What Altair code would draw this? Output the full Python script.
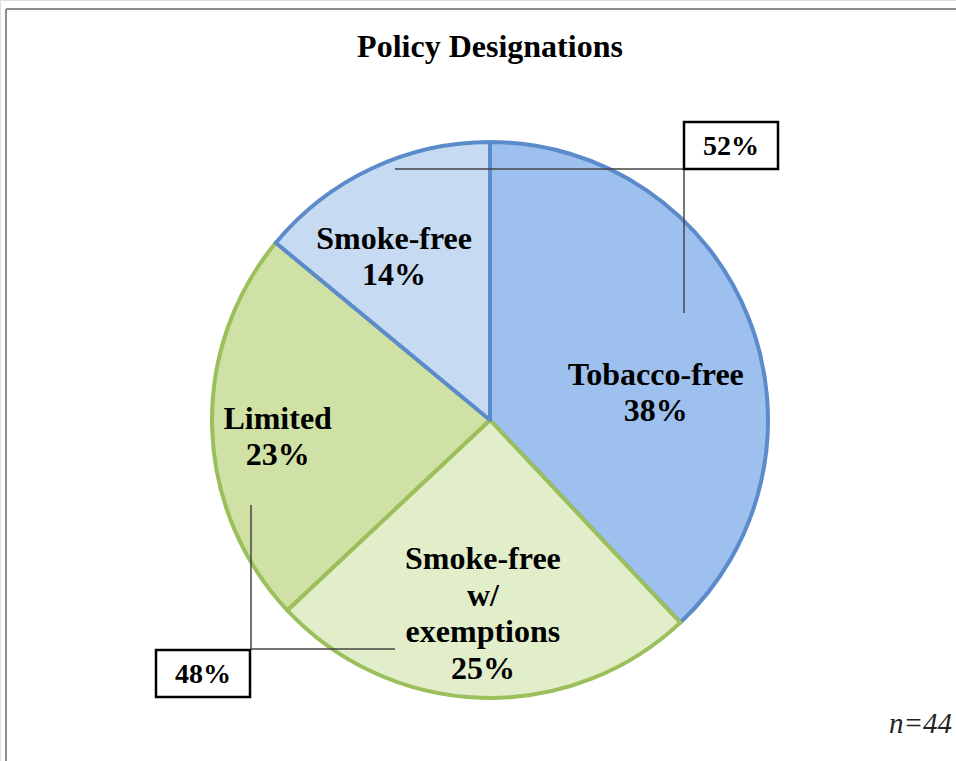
import math
import altair as alt
import pandas as pd

# ---- data ----
categories = ["Tobacco-free", "Smoke-free w/ exemptions", "Limited", "Smoke-free"]
label_lines = ["Tobacco-free", "Smoke-free\nw/\nexemptions", "Limited", "Smoke-free"]
shares = [38, 25, 23, 14]
group_labels = ["52%", "48%"]   # Smoke-free + Tobacco-free ; Limited + w/ exemptions
note = "n=44"
title_text = "Policy Designations"

# ---- styles ----
fills = ["#9DC0EE", "#E2EEC9", "#CFE1A4", "#C6DAF2"]
strokes = ["#5B8BCB", "#9BBF5B", "#9BBF5B", "#5B8BCB"]
SERIF = "Liberation Serif"
CX, CY, R = 490, 420, 278
LABEL_SIZE = 32
LINE_H = 36.5
# label placement tuning: (radius px, angle nudge in degrees)
nudge = {
    "Tobacco-free": (168, 12.4),
    "Smoke-free w/ exemptions": (194, 0.3),
    "Limited": (213, -2.8),
    "Smoke-free": (189, -5.3),
}

df = pd.DataFrame({
    "category": categories,
    "label": label_lines,
    "value": shares,
    "idx": list(range(len(categories))),
})

theta_scale = alt.Scale(domain=[0, 100])
color_scale = alt.Scale(domain=categories, range=fills)
stroke_scale = alt.Scale(domain=categories, range=strokes)

pie = alt.Chart(df).mark_arc(outerRadius=R, strokeWidth=4, strokeJoin="round").encode(
    theta=alt.Theta("value:Q", stack=True, scale=theta_scale),
    color=alt.Color("category:N", scale=color_scale, legend=None),
    stroke=alt.Stroke("category:N", scale=stroke_scale, legend=None),
    order=alt.Order("idx:Q"),
    x=alt.value(CX),
    y=alt.value(CY),
)

label_layers = []
for cat, lab in zip(categories, label_lines):
    r, dang = nudge[cat]
    n_lines = lab.count("\n") + 2
    lay = (
        alt.Chart(df)
        .transform_stack(stack="value", as_=["v0", "v1"], groupby=[], sort=[alt.SortField("idx")])
        .transform_calculate(mid="(datum.v0 + datum.v1) / 2",
                             txt="datum.label + '\\n' + datum.value + '%'")
        .transform_filter(alt.datum.category == cat)
        .mark_text(radius=r, thetaOffset=math.radians(dang), font=SERIF, fontSize=LABEL_SIZE,
                   fontWeight="bold", color="black", lineBreak="\n", lineHeight=LINE_H,
                   align="center", baseline="middle", dy=-(n_lines - 1) * LINE_H / 2)
        .encode(
            theta=alt.Theta("mid:Q", scale=theta_scale),
            text="txt:N",
            x=alt.value(CX),
            y=alt.value(CY),
        )
    )
    label_layers.append(lay)

one = alt.Data(values=[{}])
line_col = "#444444"

# leader lines
lead = [
    alt.Chart(one).mark_rule(color=line_col, strokeWidth=1.5).encode(
        x=alt.value(395), x2=alt.value(684), y=alt.value(169)),
    alt.Chart(one).mark_rule(color=line_col, strokeWidth=1.5).encode(
        x=alt.value(684), y=alt.value(169), y2=alt.value(313)),
    alt.Chart(one).mark_rule(color=line_col, strokeWidth=1.5).encode(
        x=alt.value(251), y=alt.value(505), y2=alt.value(649)),
    alt.Chart(one).mark_rule(color=line_col, strokeWidth=1.5).encode(
        x=alt.value(251), x2=alt.value(395), y=alt.value(649)),
]

boxes_df = pd.DataFrame({"txt": group_labels})
box_top = alt.Chart(boxes_df).transform_filter(alt.datum.txt == group_labels[0])
box_bot = alt.Chart(boxes_df).transform_filter(alt.datum.txt == group_labels[1])
boxes = [
    box_top.mark_rect(fill="white", stroke="black", strokeWidth=2.5).encode(
        x=alt.value(684), x2=alt.value(778), y=alt.value(122), y2=alt.value(169)),
    box_top.mark_text(font=SERIF, fontSize=28, fontWeight="bold", color="black",
                      align="center", baseline="middle").encode(
        text="txt:N", x=alt.value(731), y=alt.value(147)),
    box_bot.mark_rect(fill="white", stroke="black", strokeWidth=2.5).encode(
        x=alt.value(156), x2=alt.value(250), y=alt.value(650), y2=alt.value(697)),
    box_bot.mark_text(font=SERIF, fontSize=28, fontWeight="bold", color="black",
                      align="center", baseline="middle").encode(
        text="txt:N", x=alt.value(203), y=alt.value(675)),
]

frame = [
    alt.Chart(one).mark_rule(color="#8C8C8C", strokeWidth=2).encode(
        x=alt.value(6), x2=alt.value(956), y=alt.value(9)),
    alt.Chart(one).mark_rule(color="#8C8C8C", strokeWidth=2).encode(
        x=alt.value(6), y=alt.value(9), y2=alt.value(761)),
]

note_layer = alt.Chart(pd.DataFrame({"txt": [note]})).mark_text(
    font=SERIF, fontSize=29, fontStyle="italic", color="#222222",
    align="right", baseline="alphabetic").encode(
    text="txt:N", x=alt.value(952), y=alt.value(733))

chart = alt.layer(*frame, pie, *lead, *boxes, *label_layers, note_layer).properties(
    width=956,
    height=761,
    padding=0,
    autosize=alt.AutoSizeParams(type="none"),
    title=alt.TitleParams(title_text, font=SERIF, fontSize=32, fontWeight="bold",
                          color="black", anchor="middle", frame="group",
                          baseline="alphabetic", offset=0, dx=12, dy=89),
).configure_view(stroke=None).configure(background="white")

chart.save("out.html", embed_options={"renderer": "svg", "actions": False})
